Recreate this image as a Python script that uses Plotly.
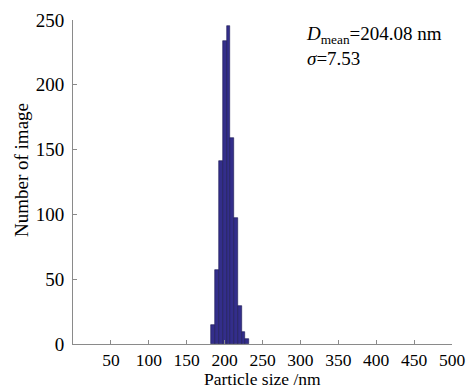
import plotly.graph_objects as go

# Histogram data (bin centers, nm) and counts
bin_centers = [185, 190, 195, 200, 205, 210, 215, 220, 225, 230]
counts = [15, 57, 141, 234, 245, 159, 97, 29, 9, 4]
bin_width = 5

x_ticks = [50, 100, 150, 200, 250, 300, 350, 400, 450, 500]
y_ticks = [0, 50, 100, 150, 200, 250]

FONT = "Liberation Serif"
AXIS_COLOR = "#8a8a8a"

TOP, BOTTOM = 20, 45
PLOT_H = 389 - TOP - BOTTOM

fig = go.Figure()
fig.add_trace(go.Bar(
    x=bin_centers, y=counts, width=bin_width,
    marker=dict(color="#332e8a", line=dict(color="#1a1750", width=0.6)),
))

fig.update_layout(
    width=470, height=389,
    margin=dict(l=73, r=18, t=TOP, b=BOTTOM),
    paper_bgcolor="white", plot_bgcolor="white",
    showlegend=False,
    font=dict(family=FONT, size=19, color="black"),
    bargap=0,
)
fig.update_xaxes(
    range=[0, 500], tickvals=x_ticks, ticktext=[str(v) for v in x_ticks],
    showgrid=False, zeroline=False, showline=True, linecolor=AXIS_COLOR, linewidth=1,
    ticks="inside", ticklen=4, tickcolor=AXIS_COLOR,
    tickfont=dict(family=FONT, size=17.5, color="black"),
    ticklabelstandoff=0,
    automargin=False,
)
fig.update_yaxes(
    range=[0, 250], tickvals=y_ticks, ticktext=[str(v) for v in y_ticks],
    showgrid=False, zeroline=False, showline=True, linecolor=AXIS_COLOR, linewidth=1,
    ticks="inside", ticklen=4, tickcolor=AXIS_COLOR,
    tickfont=dict(family=FONT, size=19, color="black"),
    ticklabelstandoff=4,
    automargin=False,
)

fig.add_annotation(
    text="Particle size /nm", xref="paper", yref="paper",
    x=(262 - 73) / 379, y=(389 - BOTTOM - 379) / PLOT_H, xanchor="center", yanchor="middle",
    showarrow=False, font=dict(family=FONT, size=17.5, color="black"),
)
fig.add_annotation(
    text="Number of image", xref="paper", yref="paper",
    x=(22 - 73) / 379, y=(389 - BOTTOM - 170) / PLOT_H, xanchor="center", yanchor="middle",
    textangle=-90, showarrow=False, font=dict(family=FONT, size=19, color="black"),
)
fig.add_annotation(
    text="<i>D</i><sub>mean</sub>=204.08 nm<br><i>σ</i>=7.53",
    xref="x", yref="y", x=305, y=249, xanchor="left", yanchor="top", align="left",
    showarrow=False, font=dict(family=FONT, size=19, color="black"),
)

fig.write_html("out.html", config={"displayModeBar": False},
               post_script="document.body.style.margin='0';")
